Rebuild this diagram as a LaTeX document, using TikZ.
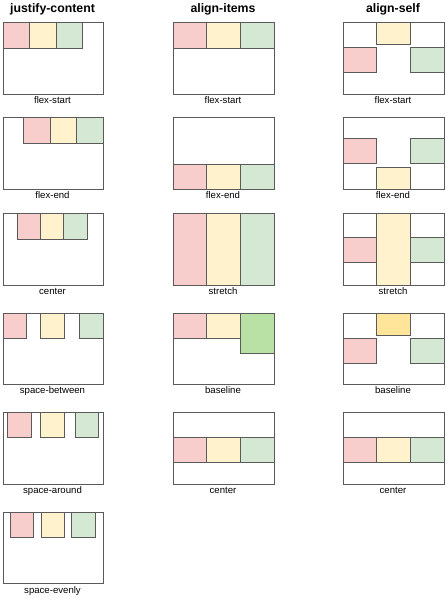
\documentclass[tikz,border=0pt]{standalone}
\usepackage{fontspec}
\setmainfont{Liberation Sans}
\definecolor{EdgeClr}{HTML}{5A5A5A}
\definecolor{RedClr}{HTML}{F8CECC}
\definecolor{YellowClr}{HTML}{FFF2CC}
\definecolor{GreenClr}{HTML}{D5E8D4}
\definecolor{DarkYellowClr}{HTML}{FFE599}
\definecolor{DarkGreenClr}{HTML}{B9E0A5}

\begin{document}
\begin{tikzpicture}[x=1pt,y=-1pt,
  cell/.style={draw=EdgeClr,line width=.9pt,inner sep=0pt,anchor=north west},
  sz/.style 2 args={minimum width=#1,minimum height=#2},
  frame/.style={cell,fill=white,sz={101}{71.7}},
  rc/.style={cell,fill=RedClr},
  yc/.style={cell,fill=YellowClr},
  gc/.style={cell,fill=GreenClr},
  title/.style={anchor=base,font=\bfseries\fontsize{12.3}{14}\selectfont},
  caption/.style={anchor=base,font=\fontsize{9.6}{11}\selectfont}]
\useasboundingbox (0,0) rectangle (445,600);

\node[title] (tj) at (52.5,12.7) {justify-content};
\node[title] (ti) at (223,12.7) {align-items};
\node[title] (ts) at (393,12.7) {align-self};

% justify-content
\node[frame,sz={100}{71.7}] (j1) at (2.5,22.3) {};
\node[frame,sz={100}{71.7}] (j2) at (2.5,117.3) {};
\node[frame,sz={100}{71.7}] (j3) at (2.5,213.3) {};
\node[frame,sz={100}{71.7}] (j4) at (2.5,312.7) {};
\node[frame,sz={100}{71.7}] (j5) at (2.5,412) {};
\node[frame,sz={100}{71.7}] (j6) at (2.5,511.7) {};

\node[rc,sz={26.5}{26}] (j1r) at (2.5,22.3) {};
\node[yc,sz={26.5}{26}] (j1y) at (29,22.3) {};
\node[gc,sz={26.5}{26}] (j1g) at (55.5,22.3) {};

\node[rc,sz={26.5}{26}] (j2r) at (23,117.3) {};
\node[yc,sz={26.5}{26}] (j2y) at (49.5,117.3) {};
\node[gc,sz={26.5}{26}] (j2g) at (76,117.3) {};

\node[rc,sz={23.3}{26}] (j3r) at (16.7,213.3) {};
\node[yc,sz={23.3}{26}] (j3y) at (40,213.3) {};
\node[gc,sz={23.3}{26}] (j3g) at (63.3,213.3) {};

\node[rc,sz={23.3}{25.3}] (j4r) at (2.5,312.7) {};
\node[yc,sz={23.3}{25.3}] (j4y) at (40.3,312.7) {};
\node[gc,sz={23.3}{25.3}] (j4g) at (79.2,312.7) {};

\node[rc,sz={23.3}{25.3}] (j5r) at (7.2,412) {};
\node[yc,sz={23.3}{25.3}] (j5y) at (40.3,412) {};
\node[gc,sz={23.3}{25.3}] (j5g) at (74.7,412) {};

\node[rc,sz={23.3}{25.3}] (j6r) at (10,511.7) {};
\node[yc,sz={23.3}{25.3}] (j6y) at (40.5,511.7) {};
\node[gc,sz={23.3}{25.3}] (j6g) at (71.3,511.7) {};

\node[caption] (j1l) at (52.5,103.3) {flex-start};
\node[caption] (j2l) at (52.5,198.6) {flex-end};
\node[caption] (j3l) at (52.5,294.3) {center};
\node[caption] (j4l) at (52.5,393.3) {space-between};
\node[caption] (j5l) at (52.5,493.3) {space-around};
\node[caption] (j6l) at (52.5,593) {space-evenly};

% align-items
\node[frame] (i1) at (172.5,22.3) {};
\node[frame] (i2) at (172.5,117.3) {};
\node[frame] (i3) at (172.5,213.3) {};
\node[frame] (i4) at (172.5,312.7) {};
\node[frame] (i5) at (172.5,412) {};

\node[rc,sz={33.7}{25.7}] (i1r) at (172.5,22.3) {};
\node[yc,sz={33.7}{25.7}] (i1y) at (206.2,22.3) {};
\node[gc,sz={33.6}{25.7}] (i1g) at (239.9,22.3) {};

\node[rc,sz={33.7}{25.3}] (i2r) at (172.5,164) {};
\node[yc,sz={33.7}{25.3}] (i2y) at (206.2,164) {};
\node[gc,sz={33.6}{25.3}] (i2g) at (239.9,164) {};

\node[rc,sz={33.7}{71.7}] (i3r) at (172.5,213.3) {};
\node[yc,sz={33.7}{71.7}] (i3y) at (206.2,213.3) {};
\node[gc,sz={33.6}{71.7}] (i3g) at (239.9,213.3) {};

\node[rc,sz={33.7}{25.3}] (i4r) at (172.5,312.7) {};
\node[yc,sz={33.7}{25.3}] (i4y) at (206.2,312.7) {};
\node[cell,fill=DarkGreenClr,sz={33.6}{40.3}] (i4g) at (239.9,312.7) {};

\node[rc,sz={33.7}{25.3}] (i5r) at (172.5,436.7) {};
\node[yc,sz={33.7}{25.3}] (i5y) at (206.2,436.7) {};
\node[gc,sz={33.6}{25.3}] (i5g) at (239.9,436.7) {};

\node[caption] (i1l) at (223,103.3) {flex-start};
\node[caption] (i2l) at (223,198.6) {flex-end};
\node[caption] (i3l) at (223,294.3) {stretch};
\node[caption] (i4l) at (223,393.3) {baseline};
\node[caption] (i5l) at (223,493.3) {center};

% align-self
\node[frame] (s1) at (342.5,22.3) {};
\node[frame] (s2) at (342.5,117.3) {};
\node[frame] (s3) at (342.5,213.3) {};
\node[frame] (s4) at (342.5,312.7) {};
\node[frame] (s5) at (342.5,412) {};

\node[yc,sz={33.7}{22}] (s1y) at (376.2,22.3) {};
\node[rc,sz={33.7}{25}] (s1r) at (342.5,47.3) {};
\node[gc,sz={33.6}{25}] (s1g) at (409.9,47.3) {};

\node[rc,sz={33.7}{25}] (s2r) at (342.5,138.3) {};
\node[gc,sz={33.6}{25}] (s2g) at (409.9,138.3) {};
\node[yc,sz={33.7}{22}] (s2y) at (376.2,167.3) {};

\node[rc,sz={33.7}{25.3}] (s3r) at (342.5,236.5) {};
\node[gc,sz={33.6}{25.3}] (s3g) at (409.9,236.5) {};
\node[yc,sz={33.7}{71.7}] (s3y) at (376.2,213.3) {};

\node[cell,fill=DarkYellowClr,sz={33.7}{22.3}] (s4y) at (376.2,312.7) {};
\node[rc,sz={33.7}{24.5}] (s4r) at (342.5,338.3) {};
\node[gc,sz={33.6}{24.5}] (s4g) at (409.9,338.3) {};

\node[rc,sz={33.7}{25.3}] (s5r) at (342.5,436.7) {};
\node[yc,sz={33.7}{25.3}] (s5y) at (376.2,436.7) {};
\node[gc,sz={33.6}{25.3}] (s5g) at (409.9,436.7) {};

\node[caption] (s1l) at (393,103.3) {flex-start};
\node[caption] (s2l) at (393,198.6) {flex-end};
\node[caption] (s3l) at (393,294.3) {stretch};
\node[caption] (s4l) at (393,393.3) {baseline};
\node[caption] (s5l) at (393,493.3) {center};

\end{tikzpicture}
\end{document}
